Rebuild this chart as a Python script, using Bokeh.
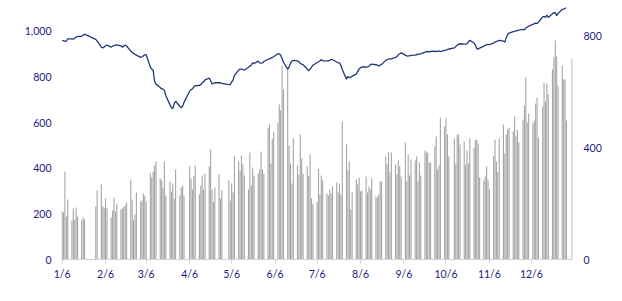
import numpy as np
import pandas as pd
from bokeh.plotting import figure
from bokeh.models import (Range1d, LinearAxis, FixedTicker, NumeralTickFormatter,
                          ColumnDataSource, CustomJSTickFormatter)
from bokeh.embed import file_html
from bokeh.resources import INLINE

# ---------------- data ----------------
first_day = "2020-01-06"
last_day = "2021-01-04"
closed_days = ["2020-01-23", "2020-01-24", "2020-01-27", "2020-01-28", "2020-01-29",
               "2020-04-03", "2020-04-30", "2020-05-01", "2020-10-09", "2021-01-01"]

# bars (right axis), one per trading day, week by week
volume = [
    173, 168, 314, 154, 214,
    139, 182, 142, 186, 154,
    139, 150, 143,
    189, 246,
    269, 189, 186, 218, 182,
    150, 175, 221, 171, 200,
    179, 182, 189, 193, 204,
    286, 214, 139, 161, 239,
    206, 211, 236, 229, 207,
    307, 293, 314, 336, 350,
    289, 282, 257, 350, 229,
    279, 243, 271, 218, 321,
    229, 257, 264, 229,
    333, 289, 250, 298, 336,
    233, 264, 300, 250, 307,
    333, 393, 250, 205, 257,
    305, 218, 246,
    282, 211, 271, 239, 369,
    350, 318, 371, 339, 300,
    250, 382, 264, 329, 300,
    307, 321, 386, 321, 305,
    469, 483, 343, 430, 455,
    488, 554, 532, 693, 607,
    682, 405, 343, 271, 433,
    337, 302, 446, 362, 305,
    333, 298, 376, 218, 198,
    205, 323, 232, 300, 282,
    236, 229, 250, 236, 261,
    275, 239, 271, 232, 493,
    411, 318, 350, 179, 239,
    286, 268, 293, 243, 246,
    296, 239, 261, 250, 289,
    225, 221, 232, 279, 279,
    368, 339, 382, 311, 382,
    339, 304, 354, 332, 296,
    418, 279, 375, 300, 357,
    354, 368, 279, 346, 300,
    389, 382, 382, 346, 346,
    404, 439, 321, 336, 507,
    475, 504, 446, 368,
    432, 343, 446, 446, 411,
    421, 339, 389, 343, 432,
    399, 426, 429, 415, 293,
    282, 296, 332, 286, 250,
    370, 429, 350, 311, 432,
    482, 379, 446, 464, 471,
    457, 511, 439, 464, 418,
    500, 550, 650, 489, 521,
    486, 496, 557, 579, 436,
    546, 632, 564, 629, 590,
    679, 721, 782, 725, 621,
    693, 643, 643, 496,
    718,
]

# line (left axis), one per trading day, week by week
index_level = [
    960, 960, 957, 958, 967,
    967, 966, 971, 975, 978,
    979, 984, 988,
    965, 958,
    931, 928, 931, 938, 940,
    931, 935, 938, 940, 941,
    937, 931, 937, 940, 936,
    914, 908, 904, 900, 896,
    886, 889, 893, 898, 898,
    843, 835, 829, 782, 769,
    754, 748, 748, 741, 719,
    678, 665, 662, 684, 694,
    672, 665, 672, 689,
    738, 745, 748, 757, 762,
    763, 767, 775, 779, 788,
    795, 785, 770, 772, 775,
    776, 775, 772,
    767, 767, 778, 788, 807,
    830, 835, 835, 833, 830,
    843, 848, 852, 862, 860,
    870, 862, 861, 862, 868,
    878, 880, 883, 886, 889,
    902, 902, 896, 881, 865,
    835, 843, 861, 870, 873,
    871, 867, 860, 857, 854,
    835, 827, 835, 843, 852,
    864, 867, 870, 877, 871,
    871, 871, 873, 877, 876,
    866, 863, 861, 851, 832,
    791, 803, 797, 800, 804,
    813, 825, 835, 841, 844,
    844, 845, 847, 854, 857,
    854, 852, 849, 852, 855,
    873, 876, 879, 880, 880,
    886, 890, 898, 902, 906,
    896, 892, 893, 893, 895,
    896, 899, 899, 901, 902,
    909, 912, 911, 911, 912,
    914, 911, 914, 915, 912,
    917, 918, 921, 923,
    928, 934, 940, 944, 946,
    944, 944, 946, 955, 961,
    949, 940, 924, 923, 927,
    936, 939, 942, 942, 942,
    949, 953, 956, 959, 961,
    958, 953, 972, 987, 993,
    999, 1000, 1003, 1004, 1006,
    1009, 1007, 1015, 1019, 1023,
    1031, 1034, 1037, 1035, 1040,
    1064, 1066, 1061, 1072, 1061,
    1078, 1082, 1083, 1069, 1078,
    1097, 1098, 1102, 1105,
    np.nan,
]

tick_dates = ["2020-01-06", "2020-02-06", "2020-03-06", "2020-04-06", "2020-05-06",
              "2020-06-06", "2020-07-06", "2020-08-06", "2020-09-06", "2020-10-06",
              "2020-11-06", "2020-12-06"]
tick_labels = ["1/6", "2/6", "3/6", "4/6", "5/6", "6/6", "7/6", "8/6", "9/6",
               "10/6", "11/6", "12/6"]

left_ticks = [0, 200, 400, 600, 800, 1000]
right_ticks = [0, 400, 800]

# ---------------- build ----------------
t0 = pd.Timestamp(first_day)
dates = pd.bdate_range(first_day, last_day).difference(pd.to_datetime(closed_days))
assert len(dates) == len(volume) == len(index_level), (len(dates), len(volume), len(index_level))
x = np.array((dates - t0).days, dtype=float)
tick_pos = [int((pd.Timestamp(d) - t0).days) for d in tick_dates]

src = ColumnDataSource(dict(x=x, vol=volume, lvl=index_level))

FONT = "Lato"
LABEL_COLOR = "#1B1B7E"

p = figure(width=622, height=301, output_backend="svg", toolbar_location=None,
           x_range=Range1d(-0.45, 364.3), y_range=Range1d(0, 1105),
           min_border_left=61, min_border_right=50, min_border_top=7, min_border_bottom=42)
p.outline_line_color = None
p.xgrid.grid_line_color = None
p.ygrid.grid_line_color = None
p.background_fill_color = "white"
p.border_fill_color = "white"

p.extra_y_ranges = {"vol": Range1d(0, 900)}

p.vbar(x="x", top="vol", width=0.8, bottom=0, source=src, y_range_name="vol",
       fill_color="#A6A6A6", line_color=None)
p.line(x="x", y="lvl", source=src, line_color="#203A78", line_width=1.3)

# left axis
ly = p.yaxis[0]
ly.ticker = FixedTicker(ticks=left_ticks)
ly.formatter = NumeralTickFormatter(format="0,0")
ly.axis_line_color = None
ly.major_tick_line_color = None
ly.minor_tick_line_color = None
ly.major_tick_out = 0
ly.major_label_standoff = 10
ly.major_label_text_font = FONT
ly.major_label_text_font_size = "10.5px"
ly.major_label_text_color = LABEL_COLOR

# right axis
ry = LinearAxis(y_range_name="vol", ticker=FixedTicker(ticks=right_ticks))
ry.axis_line_color = None
ry.major_tick_line_color = None
ry.minor_tick_line_color = None
ry.major_tick_out = 0
ry.major_label_standoff = 11
ry.major_label_text_font = FONT
ry.major_label_text_font_size = "10.5px"
ry.major_label_text_color = LABEL_COLOR
p.add_layout(ry, "right")

# bottom axis
xa = p.xaxis[0]
xa.ticker = FixedTicker(ticks=tick_pos)
xa.formatter = CustomJSTickFormatter(args=dict(pos=tick_pos, labels=tick_labels), code="""
    const i = pos.indexOf(Math.round(tick));
    return i >= 0 ? labels[i] : "";
""")
xa.axis_line_color = "#D0D0D0"
xa.axis_line_width = 1
xa.major_tick_line_color = "#D0D0D0"
xa.major_tick_out = 4
xa.major_tick_in = 0
xa.minor_tick_line_color = None
xa.major_label_standoff = 4
xa.major_label_text_font = FONT
xa.major_label_text_font_size = "10.5px"
xa.major_label_text_color = LABEL_COLOR

open("out.html", "w").write(file_html(p, INLINE))
